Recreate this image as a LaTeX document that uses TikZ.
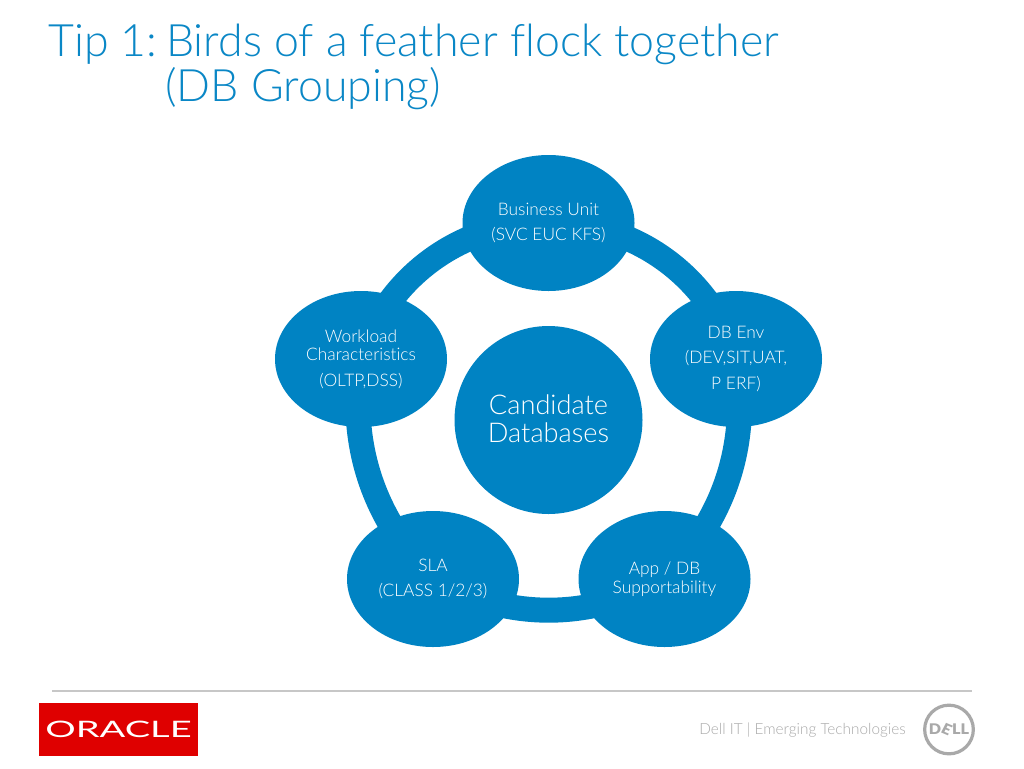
\documentclass[tikz,border=0pt]{standalone}
\usepackage{fontspec}
\setmainfont{Lato Light}[Ligatures=NoCommon]
\newfontfamily\regf{Lato}
\newfontfamily\heavyf{Lato Black}
\usetikzlibrary{shapes.geometric,backgrounds}
\definecolor{dellblue}{HTML}{0083C3}
\definecolor{titleblue}{HTML}{0A87C6}
\definecolor{footgray}{HTML}{A9A9A9}
\definecolor{oraclered}{HTML}{DF0000}
\tikzset{
  px/.style={x=0.75pt,y=-0.75pt},
  spoke/.style={ellipse,fill=dellblue,minimum width=129pt,minimum height=102pt,inner sep=0pt,text=white,align=center,font=\fontsize{13pt}{14pt}\selectfont},
  hub/.style={circle,fill=dellblue,minimum size=141pt,inner sep=0pt,text=white,font=\fontsize{20.4pt}{21pt}\selectfont},
  ringarc/.style={draw=dellblue,line width=18.75pt,looseness=0.95},
  titletext/.style={anchor=west,text=titleblue,font=\fontsize{33.5pt}{34pt}\selectfont,inner sep=0pt},
}
\begin{document}
\begin{tikzpicture}[px]
\useasboundingbox (0,0) rectangle (1024,768);
\node[titletext] (t1) at (48,44) {Tip 1:\kern-5.5pt{} Birds of a feather flock together};
\node[titletext] (t2) at (165,89) {(DB Grouping)};
\node[hub] (hub) at (548.5,420) {\raisebox{0.75pt}[\height][\depth]{\parbox{110pt}{\centering\fontsize{20.4pt}{21pt}\selectfont Candidate\\Databases}}};
\node[spoke] (top) at (548.5,223) {Business Unit\\[5pt](SVC EUC KFS)};
\node[spoke] (right) at (736,359) {DB Env\\[5pt](DEV,SIT,UAT,\\[5pt]P ERF)};
\node[spoke] (br) at (664.5,579) {App / DB\\Supportability};
\node[spoke] (bl) at (433,579) {SLA\\[5pt](CLASS 1/2/3)};
\node[spoke] (left) at (361,359) {Workload\\Characteristics\\[5pt](OLTP,DSS)};
\begin{scope}[on background layer]
\fill[white] (0,0) rectangle (1024,768);
\draw[ringarc] (top.center) to[bend left=37] (right.center);
\draw[ringarc] (right.center) to[bend left=27] (br.center);
\draw[ringarc] (br.center) to[bend left=29] (bl.center);
\draw[ringarc] (bl.center) to[bend left=26.5] (left.center);
\draw[ringarc] (left.center) to[bend left=37] (top.center);
\end{scope}
\draw[draw=black!22,line width=1.2pt] (52,691) coordinate (ra) -- (972,691) coordinate (rb);
\node[fill=oraclered,minimum width=119.25pt,minimum height=39.75pt,inner sep=0pt,text=white] (oracle) at (118.5,729.5) {\regf\scalebox{1.68}[1]{\fontsize{17pt}{17pt}\selectfont ORACLE}};
\node[anchor=east,text=footgray,inner sep=0pt,font=\fontsize{11.5pt}{13pt}\selectfont] (foot) at (906,730) {Dell IT | Emerging Technologies};
\node[circle,draw=footgray,line width=2.4pt,minimum size=36.5pt,inner sep=0pt,text=footgray] (dell) at (949,729.5) {\heavyf\scalebox{1.1}[1]{\fontsize{11pt}{11pt}\selectfont D\kern-0.8pt\rotatebox[origin=c]{-25}{E}\kern-0.8pt LL}};
\end{tikzpicture}
\end{document}
